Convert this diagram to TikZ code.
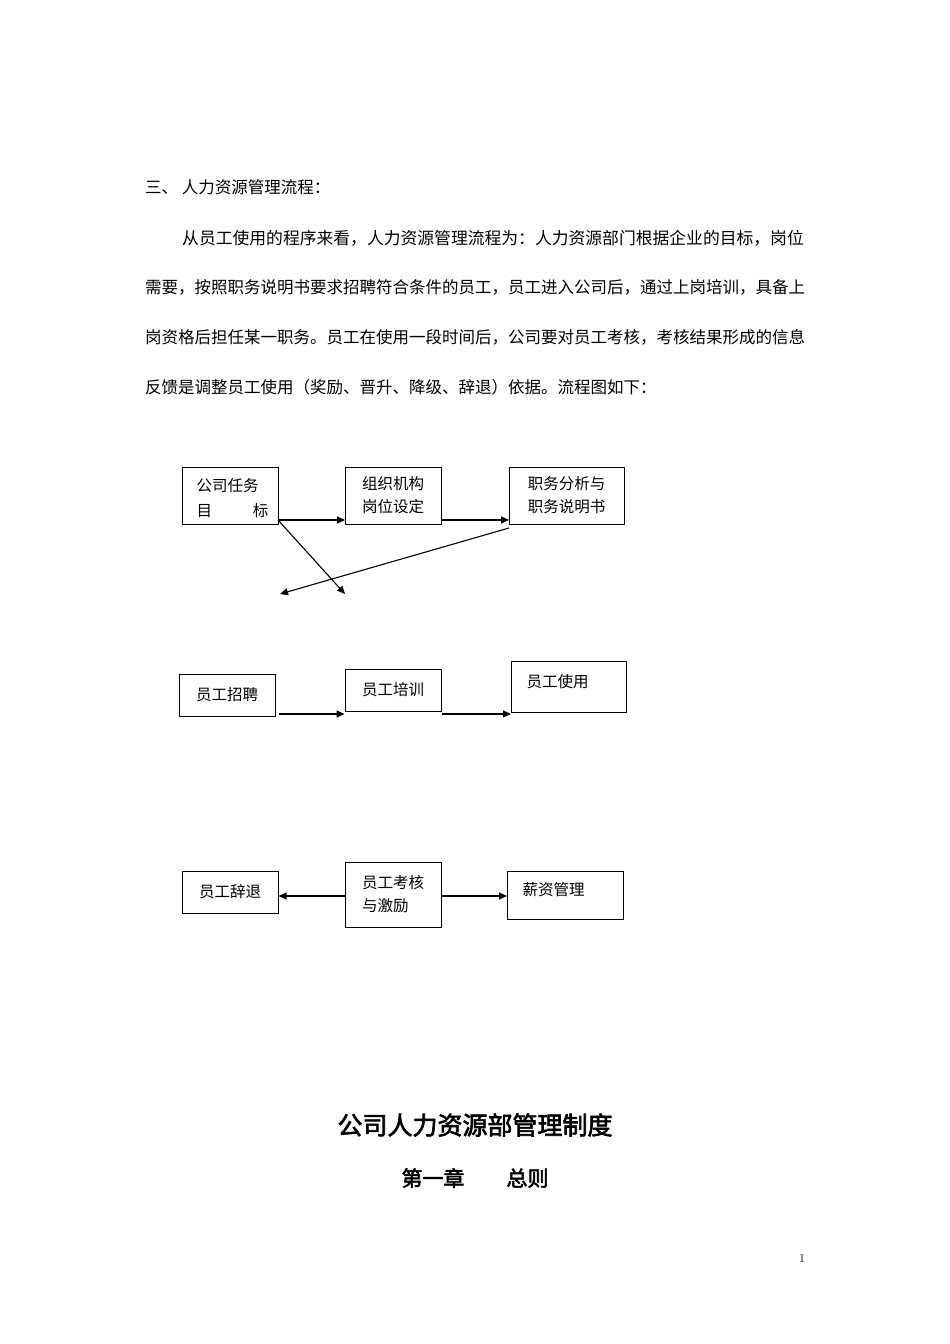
\documentclass[tikz,border=0pt]{standalone}
\usepackage{fontspec}
\newfontfamily\cjk{Noto Sans CJK SC}
\newfontfamily\cjkb[FakeBold=2.5]{Noto Sans CJK SC}
\usetikzlibrary{arrows.meta}
\begin{document}
\begin{tikzpicture}[x=1pt,y=-1pt,
  bx/.style={draw,line width=1pt,inner sep=0pt,font=\cjk\fontsize{15.5}{23}\selectfont,align=left},
  ar/.style={line width=1.1pt,-{Triangle[length=8pt,width=7pt]}},
  ln/.style={anchor=west,inner sep=0pt,font=\cjk\fontsize{16.5}{18}\selectfont}]
\useasboundingbox[fill=white] (0,0) rectangle (950,1344);
\node[ln] (t0) at (145,187) {三、 人力资源管理流程：};
\node[ln,font=\cjk\fontsize{16.8}{18}\selectfont] (t1) at (182,238) {从员工使用的程序来看，人力资源管理流程为：人力资源部门根据企业的目标，岗位};
\node[ln,font=\cjk\fontsize{16.5}{18}\selectfont] (t2) at (145,287) {需要，按照职务说明书要求招聘符合条件的员工，员工进入公司后，通过上岗培训，具备上};
\node[ln,font=\cjk\fontsize{16.5}{18}\selectfont] (t3) at (145,337) {岗资格后担任某一职务。员工在使用一段时间后，公司要对员工考核，考核结果形成的信息};
\node[ln] (t4) at (145,387) {反馈是调整员工使用（奖励、晋升、降级、辞退）依据。流程图如下：};
% row 1
\draw[line width=1pt] (182,467) rectangle (278,524);
\node[font=\cjk\fontsize{15.5}{15}\selectfont,anchor=west] (a) at (193,486) {公司任务};
\node[font=\cjk\fontsize{15.5}{15}\selectfont,anchor=west] (a1) at (193,511) {目};
\node[font=\cjk\fontsize{15.5}{15}\selectfont,anchor=east] (a2) at (272,511) {标};
\coordinate (A) at (278,520);
\node[bx,minimum width=96pt,minimum height=57pt] (B) at (393,495.5) {组织机构\\岗位设定};
\node[bx,minimum width=115pt,minimum height=57pt] (C) at (566.5,495.5) {职务分析与\\职务说明书};
\coordinate (bw) at (345,520); \coordinate (cw) at (509,520); \coordinate (be) at (441,520);
\draw[ar] (A) -- (bw);
\draw[ar] (be) -- (cw);
\coordinate (p1) at (345,594); \coordinate (p2) at (280,594); \coordinate (cs) at (509,528);
\draw[ar] (A) -- (p1);
\draw[ar] (cs) -- (p2);
% row 2
\node[bx,minimum width=96pt,minimum height=42pt] (D) at (227,695) {员工招聘};
\node[bx,minimum width=96pt,minimum height=42pt] (E) at (393,690) {员工培训};
\draw[line width=1pt] (511,661) rectangle (626,712);
\node[font=\cjk\fontsize{15.5}{15}\selectfont,anchor=west] (F) at (523,682) {员工使用};
\coordinate (fw) at (511,714);
\draw[ar] (279,714) -- (E.west |- 0,714);
\draw[ar] (442,714) -- (fw);
% row 3
\node[bx,minimum width=96pt,minimum height=42pt] (G) at (230,892) {员工辞退};
\node[bx,minimum width=96pt,minimum height=65pt] (H) at (393,894.5) {员工考核\\与激励};
\draw[line width=1pt] (507,871) rectangle (623,919);
\draw[line width=1.6pt] (507.5,871) -- (507.5,919.5) -- (623,919.5);
\node[font=\cjk\fontsize{15.5}{15}\selectfont,anchor=west] (I) at (519,890) {薪资管理};
\coordinate (iw) at (507,896);
\draw[ar] (H.west |- 0,896) -- (G.east |- 0,896);
\draw[ar] (H.east |- 0,896) -- (iw);
% titles
\node[font=\cjkb\fontsize{25}{25}\selectfont] (T1) at (475,1125) {公司人力资源部管理制度};
\node[font=\cjkb\fontsize{21}{21}\selectfont] (T2) at (475,1178) {第一章\hspace{2em}总则};
\node[font=\fontsize{12}{12}\selectfont] (pn) at (802,1258) {1};
\end{tikzpicture}
\end{document}
